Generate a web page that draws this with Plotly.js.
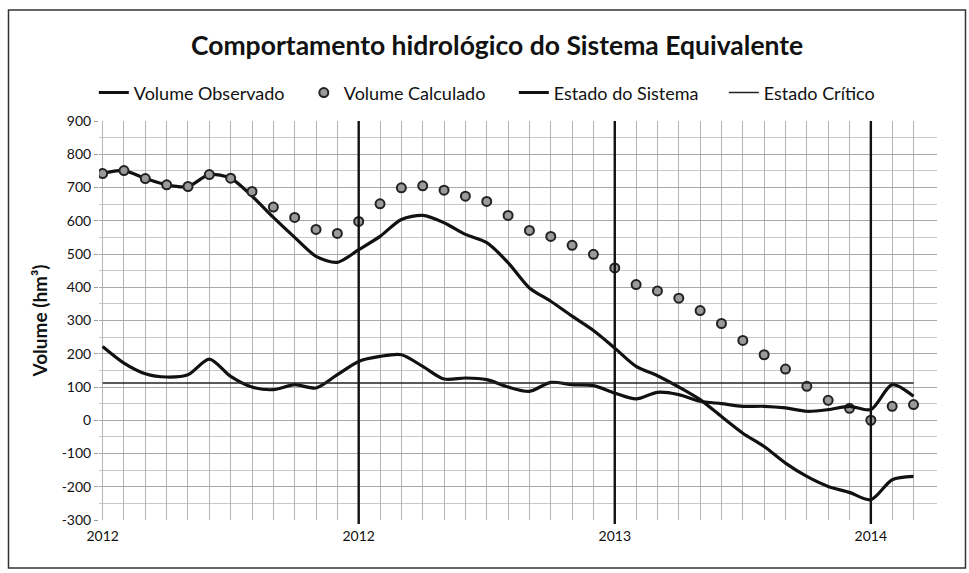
<!DOCTYPE html>
<html>
<head>
<meta charset="utf-8">
<script src="https://cdn.plot.ly/plotly-3.0.1.min.js"></script>
<style>html,body{margin:0;padding:0;background:#fff;}#chart{width:969px;height:573px;}</style>
</head>
<body>
<div id="chart"></div>
<script>
// months since start of series (monthly steps)
const months = [0,1,2,3,4,5,6,7,8,9,10,11,12,13,14,15,16,17,18,19,20,21,22,23,24,25,26,27,28,29,30,31,32,33,34,35,36,37,38];
// x tick labels
const yearTickMonths = [0, 12, 24, 36];
const yearTickLabels = ["2012", "2012", "2013", "2014"];
// heavy year separators
const yearLines = [12, 24, 36];
// y tick labels
const yTickValues = [-300,-200,-100,0,100,200,300,400,500,600,700,800,900];
const yTickLabels = ["-300","-200","-100","0","100","200","300","400","500","600","700","800","900"];

const volumeObservado = [742,751,727,708,703,739,728,674,610,550,493,475,513,553,604,616,594,559,534,474,398,358,313,270,217,162,134,100,62,11,-39,-79,-129,-169,-199,-217,-239,-179,-169];
const volumeCalculado = [742,751,727,708,703,739,728,688,641,610,574,562,598,651,699,705,692,674,658,616,571,553,526,499,458,408,389,367,330,291,240,197,154,102,60,36,0,42,47];
const estadoSistema = [222,172,140,130,137,184,132,100,92,107,97,137,177,192,197,162,124,127,122,100,87,114,107,104,82,64,84,77,57,50,42,42,37,27,32,42,32,107,72];
const estadoCriticoValue = 112;
const estadoCritico = months.map(() => estadoCriticoValue);

const tickText = months.map(m => { const i = yearTickMonths.indexOf(m); return i >= 0 ? yearTickLabels[i] : ""; });

const FONT = "Lato, 'Open Sans', sans-serif";

const traces = [
  {x: months, y: volumeObservado, name: "Volume Observado", mode: "lines",
   line: {color: "#111", width: 3.2, shape: "spline", smoothing: 0.8}},
  {x: months, y: volumeCalculado, name: "Volume Calculado", mode: "markers",
   marker: {size: 9, color: "#9a9a9a", line: {color: "#222", width: 2}}},
  {x: months, y: estadoSistema, name: "Estado do Sistema", mode: "lines",
   line: {color: "#111", width: 3.2, shape: "spline", smoothing: 0.8}},
  {x: months, y: estadoCritico, name: "Estado Crítico", mode: "lines",
   line: {color: "#222", width: 1.6}}
];

const shapes = yearLines.map(m => ({
  type: "line", xref: "x", yref: "paper", x0: m, x1: m, y0: -0.01, y1: 1,
  line: {color: "#111", width: 2.4}
}));
shapes.push({type: "rect", xref: "paper", yref: "paper", x0: -0.108, x1: 1.034, y0: -0.12, y1: 1.278,
  line: {color: "#333", width: 1.5}, layer: "below"});

const layout = {
  width: 969, height: 573,
  margin: {l: 99, r: 32, t: 121, b: 53},
  paper_bgcolor: "#fff", plot_bgcolor: "#fff",
  font: {family: FONT, color: "#111", size: 14},
  title: {text: "<b>Comportamento hidrológico do Sistema Equivalente</b>",
          font: {family: FONT, size: 26.5, color: "#111"},
          x: 0.513, xanchor: "center", y: 0.921, yanchor: "middle"},
  showlegend: true,
  legend: {orientation: "h", x: 0.495, xanchor: "center", y: 1.117, yanchor: "top",
           font: {family: FONT, size: 18, color: "#111"}, entrywidth: 165, entrywidthmode: "pixels"},
  xaxis: {range: [-0.17, 39.1], tickvals: months, ticktext: tickText,
          showgrid: true, gridcolor: "#b5b5b5", gridwidth: 1, zeroline: false,
          ticks: "", showline: false, ticklabelstandoff: 6,
          tickfont: {size: 14, color: "#111"}, fixedrange: true},
  yaxis: {range: [-300, 900], tickvals: yTickValues, ticktext: yTickLabels,
          showgrid: true, gridcolor: "#a8a8a8", gridwidth: 1,
          zeroline: false, ticks: "outside", ticklen: 4, tickcolor: "#999", showline: false,
          minor: {dtick: 50, tick0: 0, showgrid: true, gridcolor: "#c8c8c8", gridwidth: 1},
          tickfont: {size: 14, color: "#111"},
          title: {text: "<b>Volume (hm³)</b>", font: {family: FONT, size: 19, color: "#111"}, standoff: 8}},
  shapes: shapes
};

Plotly.newPlot("chart", traces, layout, {displayModeBar: false, staticPlot: true});
</script>
</body>
</html>
